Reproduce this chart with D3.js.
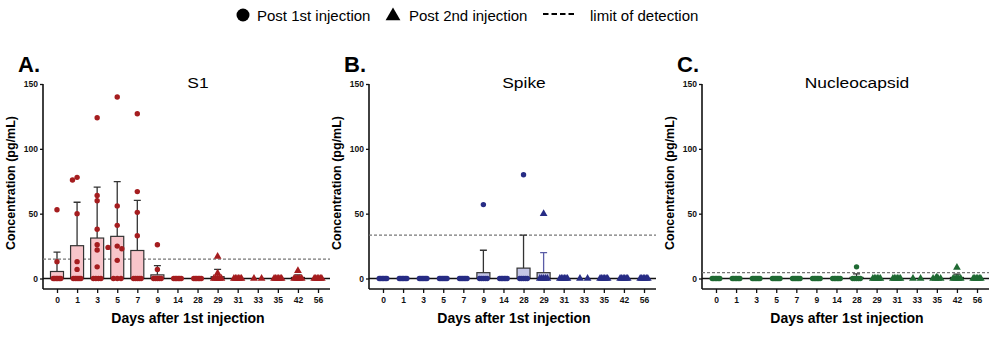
<!DOCTYPE html>
<html>
<head>
<meta charset="utf-8">
<script src="https://cdn.jsdelivr.net/npm/d3@7"></script>
<style>
  body { margin: 0; background: #fff; }
  svg { display: block; font-family: "Liberation Sans", Arial, sans-serif; }
</style>
</head>
<body>
<svg></svg>
<script>
/* data */
var days = ["0", "1", "3", "5", "7", "9", "14", "28", "29", "31", "33", "35", "42", "56"];
var firstSecondDoseDay = "29";   // triangles from this day on

var s1Values = [
  [53, 13, 0, 0, 0, 0, 0, 0],
  [78, 76, 50, 13, 7, 0, 0, 0, 0, 0],
  [124, 64, 60, 38, 26, 22, 9, 0, 0, 0, 0],
  [140, 56, 41, 25, 24, 23, 14, 0, 0, 0],
  [127, 67, 51, 33, 0, 0, 0, 0, 0],
  [26, 7, 0, 0, 0, 0, 0],
  [0, 0, 0, 0, 0, 0],
  [0, 0, 0, 0, 0, 0],
  [17, 4, 0, 0, 0, 0, 0],
  [0, 0, 0, 0, 0, 0],
  [0, 0],
  [0, 0, 0, 0, 0, 0],
  [6, 0, 0, 0, 0, 0],
  [0, 0, 0, 0, 0, 0]
];
var s1Mean = [5.4, 25.3, 31.2, 32.5, 21.6, 2.8, 0, 0, 1.4, 0, 0, 0, 0.8, 0];
var s1Sd   = [15, 33.5, 39.2, 42.2, 38.7, 7.2, 0, 0, 5.6, 0, 0, 0, 2, 0];
var s1Lod = 15;

var spikeValues = [
  [0, 0, 0, 0, 0, 0],
  [0, 0, 0, 0, 0, 0],
  [0, 0, 0, 0, 0, 0],
  [0, 0, 0, 0, 0, 0],
  [0, 0, 0, 0, 0, 0],
  [57, 0, 0, 0, 0, 0],
  [0, 0, 0, 0, 0, 0],
  [80, 0, 0, 0, 0, 0],
  [50, 0, 0, 0, 0, 0],
  [0, 0, 0, 0, 0, 0],
  [0, 0],
  [0, 0, 0, 0, 0, 0],
  [0, 0, 0, 0, 0, 0],
  [0, 0, 0, 0, 0, 0]
];
var spikeMean = [0, 0, 0, 0, 0, 4.5, 0, 8, 4.5, 0, 0, 0, 0, 0];
var spikeSd   = [0, 0, 0, 0, 0, 17.3, 0, 25.5, 15.5, 0, 0, 0, 0, 0];
var spikeLod = 33.5;

var nucValues = [
  [0, 0, 0, 0, 0, 0],
  [0, 0, 0, 0, 0, 0],
  [0, 0, 0, 0, 0, 0],
  [0, 0, 0, 0, 0, 0],
  [0, 0, 0, 0, 0, 0],
  [0, 0, 0, 0, 0, 0],
  [0, 0, 0, 0, 0, 0],
  [9, 0, 0, 0, 0, 0],
  [0, 0, 0, 0, 0, 0],
  [0, 0, 0, 0, 0, 0],
  [0, 0],
  [1, 0, 0, 0, 0],
  [8.5, 0, 0, 0, 0, 0],
  [0, 0, 0, 0, 0, 0]
];
var nucMean = [0, 0, 0, 0, 0, 0, 0, 0.8, 0, 0, 0, 0, 0.8, 0];
var nucSd   = [0, 0, 0, 0, 0, 0, 0, 2.8, 0, 0, 0, 0, 2.6, 0];
var nucLod = 4.5;

var yTicks = [0, 50, 100, 150];
var legendLabels = ["Post 1st injection", "Post 2nd injection", "limit of detection"];

/* svg setting */
var svgWidth = 1000;
var svgHeight = 342;
var plotTop = 84;      // y of 150
var zeroY = 278.5;     // y of 0
var axisY = 289;       // x axis line
var plotW = 287;

var svg = d3.select("svg")
    .attr("width", svgWidth)
    .attr("height", svgHeight);

var panels = [
  {letter: "A.", title: "S1", x0: 43, values: s1Values, mean: s1Mean, sd: s1Sd, lod: s1Lod,
   color: "#a51d1f", fill: "#f8c5ca", err2: "#333"},
  {letter: "B.", title: "Spike", x0: 369, values: spikeValues, mean: spikeMean, sd: spikeSd, lod: spikeLod,
   color: "#272c85", fill: "#c3c5e6", err2: "#5a5ca6"},
  {letter: "C.", title: "Nucleocapsid", x0: 702, values: nucValues, mean: nucMean, sd: nucSd, lod: nucLod,
   color: "#1f6a33", fill: "#bfe0c6", err2: "#333"}
];

var yScale = d3.scaleLinear().domain([0, 150]).range([zeroY, plotTop]);
var secondIdx = days.indexOf(firstSecondDoseDay);
var triSymbol = d3.symbol(d3.symbolTriangle).size(26);

panels.forEach(drawPanel);
drawLegend();

function drawPanel(p) {
  var g = svg.append("g");
  var x = d3.scalePoint().domain(days).range([p.x0 + 14, p.x0 + 275]);

  // panel letter + title
  g.append("text")
      .attr("x", p.x0 - 25).attr("y", 72)
      .attr("font-size", 22).attr("font-weight", "bold")
      .text(p.letter);
  g.append("text")
      .attr("transform", translate(p.x0 + 155, 88) + " scale(1.2,1)")
      .attr("text-anchor", "middle")
      .attr("font-size", 14.5)
      .text(p.title);

  // y axis
  var yAxis = g.append("g")
      .attr("transform", translate(p.x0, 0))
      .call(d3.axisLeft(yScale).tickValues(yTicks).tickSize(3).tickPadding(2));
  yAxis.select(".domain").remove();
  yAxis.selectAll("line").attr("stroke", "#111").attr("stroke-width", 1.3);
  yAxis.selectAll("text")
      .attr("font-family", "Liberation Sans, Arial, sans-serif")
      .attr("font-size", 8.5).attr("font-weight", "bold").attr("fill", "#111");
  g.append("line")
      .attr("x1", p.x0).attr("x2", p.x0)
      .attr("y1", plotTop).attr("y2", axisY)
      .attr("stroke", "#111").attr("stroke-width", 1.6);

  // x axis
  var xAxis = g.append("g")
      .attr("transform", translate(0, axisY))
      .call(d3.axisBottom(x).tickSize(4).tickPadding(4));
  xAxis.select(".domain").remove();
  xAxis.selectAll("line").attr("stroke", "#111").attr("stroke-width", 1.3);
  xAxis.selectAll("text")
      .attr("font-family", "Liberation Sans, Arial, sans-serif")
      .attr("font-size", 8.5).attr("font-weight", "bold").attr("fill", "#111");
  g.append("line")
      .attr("x1", p.x0).attr("x2", p.x0 + plotW)
      .attr("y1", axisY).attr("y2", axisY)
      .attr("stroke", "#111").attr("stroke-width", 1.6);

  // axis titles
  g.append("text")
      .attr("x", p.x0 + 145).attr("y", 323)
      .attr("text-anchor", "middle")
      .attr("font-size", 14).attr("font-weight", "bold")
      .text("Days after 1st injection");
  g.append("text")
      .attr("transform", translate(p.x0 - 28, 183) + " rotate(-90)")
      .attr("text-anchor", "middle")
      .attr("font-size", 12.5).attr("font-weight", "bold")
      .text("Concentration (pg/mL)");

  // limit of detection
  g.append("line")
      .attr("x1", p.x0).attr("x2", p.x0 + plotW)
      .attr("y1", yScale(p.lod)).attr("y2", yScale(p.lod))
      .attr("stroke", "#777").attr("stroke-width", 1.2)
      .attr("stroke-dasharray", "3,2");

  // bars
  var bars = days.map(function(d, i){ return {day: d, i: i, mean: p.mean[i], sd: p.sd[i]}; });
  g.selectAll(".err")
      .data(bars.filter(function(b){ return b.sd > 0; }))
      .enter().append("path")
      .attr("class", "err")
      .attr("fill", "none")
      .attr("stroke", function(b){ return b.i >= secondIdx ? p.err2 : "#333"; })
      .attr("stroke-width", 1.3)
      .attr("d", function(b){
        var cx = x(b.day), top = yScale(b.mean + b.sd);
        return "M" + cx + "," + yScale(b.mean) + "V" + top + "M" + (cx - 3.5) + "," + top + "H" + (cx + 3.5);
      });
  g.selectAll(".bar")
      .data(bars.filter(function(b){ return b.mean > 0; }))
      .enter().append("rect")
      .attr("class", "bar")
      .attr("x", function(b){ return x(b.day) - 6.5; })
      .attr("width", 13)
      .attr("y", function(b){ return yScale(b.mean); })
      .attr("height", function(b){ return zeroY - yScale(b.mean); })
      .attr("fill", p.fill)
      .attr("stroke", "#333").attr("stroke-width", 1.2);

  // zero line
  g.append("line")
      .attr("x1", p.x0).attr("x2", p.x0 + plotW)
      .attr("y1", zeroY).attr("y2", zeroY)
      .attr("stroke", "#111").attr("stroke-width", 1.6);

  // points
  var pts = [];
  p.values.forEach(function(vals, i){
    pts = pts.concat(placePoints(vals, x(days[i]), i >= secondIdx));
  });
  g.selectAll(".dot")
      .data(pts.filter(function(d){ return !d.tri; }))
      .enter().append("circle")
      .attr("cx", function(d){ return d.x; })
      .attr("cy", function(d){ return d.y; })
      .attr("r", 2.7)
      .attr("fill", p.color);
  g.selectAll(".tri")
      .data(pts.filter(function(d){ return d.tri; }))
      .enter().append("path")
      .attr("d", triSymbol)
      .attr("transform", function(d){ return translate(d.x, d.y); })
      .attr("fill", p.color);
}

// simple beeswarm, zeros squeezed into a blob
function placePoints(vals, cx, tri) {
  var out = [];
  var zeros = vals.filter(function(v){ return v === 0; });
  var others = vals.filter(function(v){ return v > 0; }).sort(d3.descending);
  others.forEach(function(v){
    var y = yScale(v), k = 0, off = 0;
    while (true) {
      off = (k % 2 ? -1 : 1) * Math.ceil(k / 2) * 4.6;
      var ok = out.every(function(o){ return Math.hypot(o.x - (cx + off), o.y - y) >= 5; });
      if (ok) break;
      k++;
    }
    out.push({x: cx + off, y: y, tri: tri});
  });
  var n = zeros.length;
  zeros.forEach(function(v, j){
    var off = n > 1 ? -3.8 + 7.6 * j / (n - 1) : 0;
    out.push({x: cx + off, y: yScale(0), tri: tri});
  });
  return out;
}

function drawLegend() {
  var g = svg.append("g");
  g.append("circle").attr("cx", 243).attr("cy", 15).attr("r", 6.5).attr("fill", "#000");
  g.append("text").attr("x", 257).attr("y", 21).attr("font-size", 15).text(legendLabels[0]);
  g.append("path")
      .attr("d", d3.symbol(d3.symbolTriangle).size(95))
      .attr("transform", translate(393, 16))
      .attr("fill", "#000");
  g.append("text").attr("x", 409).attr("y", 21).attr("font-size", 15).text(legendLabels[1]);
  g.append("line")
      .attr("x1", 543).attr("x2", 576).attr("y1", 14).attr("y2", 14)
      .attr("stroke", "#000").attr("stroke-width", 2)
      .attr("stroke-dasharray", "5.5,3");
  g.append("text").attr("x", 590).attr("y", 21).attr("font-size", 15).text(legendLabels[2]);
}

function translate(x, y) {
  return "translate(" + x + "," + y + ")";
}
</script>
</body>
</html>
